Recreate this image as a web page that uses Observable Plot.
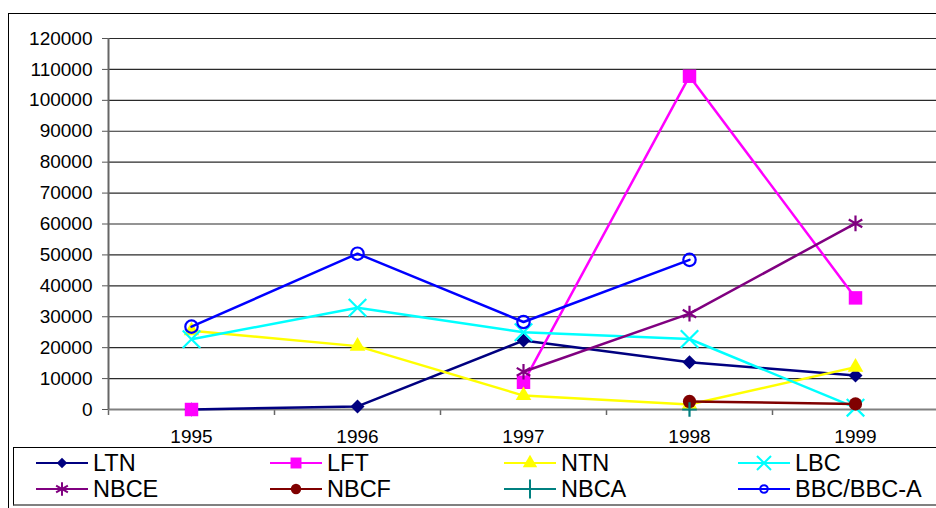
<!DOCTYPE html>
<html><head><meta charset="utf-8">
<script src="https://cdn.jsdelivr.net/npm/d3@7"></script>
<script src="https://cdn.jsdelivr.net/npm/@observablehq/plot@0.6"></script>
<style>
html,body{margin:0;padding:0;background:#fff;width:936px;height:508px;overflow:hidden;font-family:"Liberation Sans",Arial,sans-serif;}
#frame{position:absolute;left:8px;top:13px;width:1000px;height:600px;border:1px solid #000;box-sizing:border-box;}
#chart{position:absolute;left:0;top:0;}
#legend{position:absolute;left:13px;top:447px;width:1000px;height:59px;box-sizing:border-box;border:1px solid #000;border-bottom:2px solid #808080;background:#fff;
  display:grid;grid-template-columns:repeat(4,234px);grid-auto-rows:26px;padding-left:22px;padding-top:2px;font-size:23.5px;line-height:26px;}
.item{display:flex;align-items:center;white-space:nowrap;}
.item svg{flex:none;margin-right:4px;}
</style></head><body>
<div id="frame"></div>
<div id="chart"></div>
<div id="legend"></div>
<script>
// ---- data ----
const years = [1995, 1996, 1997, 1998, 1999];
const seriesNames = ["LTN", "LFT", "NTN", "LBC", "NBCE", "NBCF", "NBCA", "BBC/BBC-A"];
const LTN  = [0, 1000, 22300, 15300, 11000];
const LFT  = [0, null, 8800, 107800, 36100];
const NTN  = [25500, 20500, 4500, 1600, 13700];
const LBC  = [22700, 32900, 25000, 22800, 600];
const NBCE = [null, null, 12200, 31000, 60200];
const NBCF = [null, null, null, 2600, 1800];
const NBCA = [null, null, null, 0, null];
const BBC  = [26800, 50400, 28300, 48400, null];
const yTicks = [0, 10000, 20000, 30000, 40000, 50000, 60000, 70000, 80000, 90000, 100000, 110000, 120000];

const values = [LTN, LFT, NTN, LBC, NBCE, NBCF, NBCA, BBC];

// ---- styles ----
const styles = [
  {color: "#000080", symbol: "diamond2", filled: true,  r: 6.3, d3s: d3.symbolDiamond2, ls: 70},
  {color: "#FF00FF", symbol: "square",   filled: true,  r: 7.6, d3s: d3.symbolSquare,   ls: 120},
  {color: "#FFFF00", symbol: "triangle", filled: true,  r: 5.8, d3s: d3.symbolTriangle, ls: 90},
  {color: "#00FFFF", symbol: "times",    filled: false, r: 8.0, d3s: d3.symbolTimes,    ls: 130},
  {color: "#800080", symbol: "asterisk", filled: false, r: 7.4, d3s: d3.symbolAsterisk, ls: 130},
  {color: "#800000", symbol: "circle",   filled: true,  r: 6.6, d3s: d3.symbolCircle,   ls: 85},
  {color: "#008080", symbol: "plus",     filled: false, r: 4.8, d3s: d3.symbolPlus,     ls: 120},
  {color: "#0000FF", symbol: "circle",   filled: false, r: 6.2, d3s: d3.symbolCircle,   ls: 45}
];

const xDomain = [years[0] - 0.5, years[years.length - 1] + 0.5];
const boundaries = [years[0] - 0.5, ...years.map(y => y + 0.5)];

const marks = [
  Plot.gridY(yTicks, {stroke: "#2a2a2a", strokeOpacity: 1, strokeWidth: 1.2}),
  Plot.axisY({ticks: yTicks, tickSize: 6, tickPadding: 10, tickFormat: d => String(d), stroke: "#555", label: null}),
  Plot.axisX({ticks: years, tickSize: 0, tickPadding: 20, tickFormat: d => String(d), label: null}),
  Plot.axisX({ticks: boundaries, tickSize: 6, tickFormat: () => "", stroke: "#666", strokeWidth: 1.5, label: null}),
  Plot.ruleY([0], {stroke: "#808080", strokeWidth: 2}),
  Plot.ruleX([xDomain[0]], {y1: 0, y2: yTicks[yTicks.length - 1], stroke: "#666", strokeWidth: 2})
];

seriesNames.forEach((name, i) => {
  const rows = years.map((y, j) => ({year: y, value: values[i][j], series: name}));
  const s = styles[i];
  marks.push(Plot.line(rows, {x: "year", y: "value", stroke: s.color, strokeWidth: 2.5}));
  const pts = rows.filter(d => d.value != null);
  marks.push(Plot.dot(pts, s.filled
    ? {x: "year", y: "value", symbol: s.symbol, r: s.r, fill: s.color, stroke: "none"}
    : {x: "year", y: "value", symbol: s.symbol, r: s.r, fill: "none", stroke: s.color, strokeWidth: 2.2}));
});

const chart = Plot.plot({
  width: 936,
  height: 446,
  marginLeft: 108,
  marginRight: 0,
  marginTop: 38,
  marginBottom: 37,
  style: {background: "transparent", fontFamily: "'Liberation Sans', Arial, sans-serif", fontSize: "19px", overflow: "visible"},
  x: {type: "linear", domain: xDomain, range: [108, 938], label: null},
  y: {domain: [0, 120000], label: null},
  marks
});
document.getElementById("chart").appendChild(chart);

// ---- legend ----
const legend = d3.select("#legend");
seriesNames.forEach((name, i) => {
  const s = styles[i];
  const item = legend.append("div").attr("class", "item");
  const svg = item.append("svg").attr("width", 53).attr("height", 26);
  svg.append("line").attr("x1", 0).attr("x2", 52).attr("y1", 13).attr("y2", 13)
    .attr("stroke", s.color).attr("stroke-width", 2.2);
  const p = svg.append("path").attr("transform", "translate(26,13)")
    .attr("d", d3.symbol(s.d3s, s.ls)());
  if (s.filled) p.attr("fill", s.color);
  else p.attr("fill", "none").attr("stroke", s.color).attr("stroke-width", 2);
  item.append("span").text(name);
});
</script>
</body></html>
